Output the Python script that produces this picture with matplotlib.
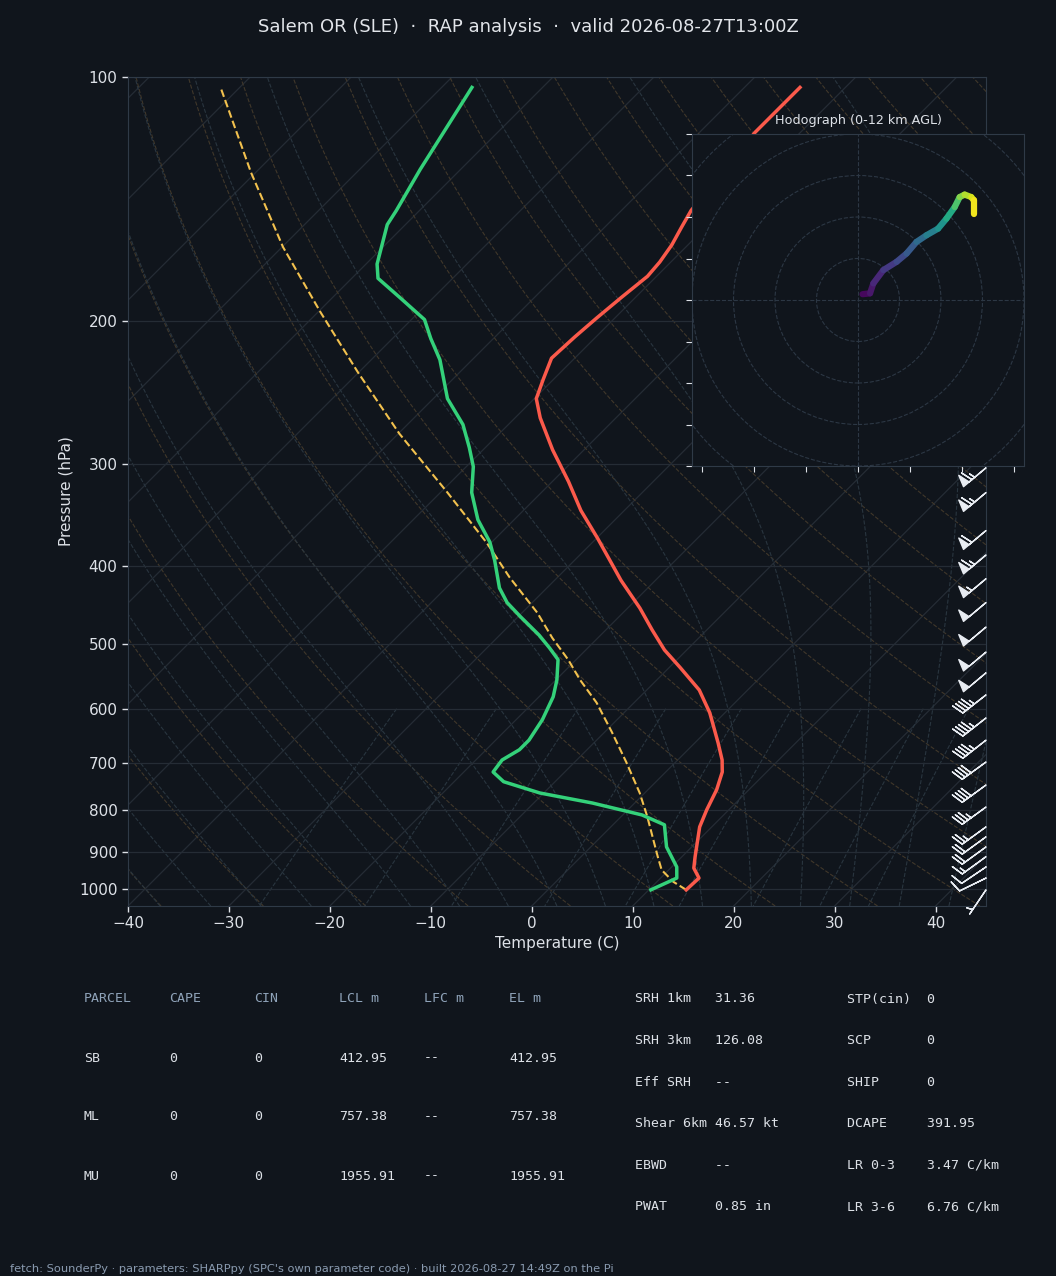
import numpy as np
import matplotlib
matplotlib.use("Agg")
import matplotlib.pyplot as plt
import matplotlib.transforms as mtransforms
from matplotlib.collections import LineCollection
from matplotlib.patches import Circle
from matplotlib.ticker import FixedLocator, FixedFormatter, NullLocator

# ---- sounding ----
temp_p = [1003, 970, 943, 913, 839, 799, 755, 718, 694, 661, 607, 569, 534, 508, 480, 451, 417,
          370, 342, 315, 288, 263, 249, 236, 222, 209, 198, 187, 176, 169, 161, 153, 146, 117, 103]
temp_c = [13.7, 13.8, 12.3, 11.3, 8.8, 7.8, 6.8, 5.6, 4.4, 2.3, -1.5, -4.8, -8.9, -12.2, -15.4, -18.8, -23.4,
          -29.9, -34.3, -38.4, -43.1, -47.5, -49.8, -51.0, -52.3, -52.1, -51.8, -51.4, -50.9, -51.1, -51.6,
          -52.4, -53.1, -54.5, -54.5]

dwpt_p = [1003, 970, 940, 888, 834, 811, 784, 762, 738, 718, 694, 674, 656, 619, 580, 553, 522, 505, 487,
          462, 444, 426, 394, 374, 351, 325, 302, 286, 268, 249, 223, 210, 199, 187, 177, 170, 152, 146,
          130, 103]
dwpt_c = [10.2, 11.6, 10.5, 7.5, 5.1, 1.9, -4.2, -10.4, -15.1, -17.1, -17.4, -16.7, -16.7, -17.4, -18.6,
          -19.9, -21.8, -23.8, -26.1, -29.8, -32.5, -34.7, -37.9, -40.2, -43.6, -46.9, -49.3, -51.6, -54.5,
          -58.6, -63.2, -66.2, -68.7, -73.3, -77.4, -78.9, -81.8, -82.3, -84.0, -87.0]

parcel_p = [1003, 980, 948, 913, 815, 762, 698, 641, 590, 553, 522, 491, 457, 413, 375, 325, 275, 231,
            195, 162, 131, 103]
parcel_c = [13.7, 11.6, 9.3, 7.6, 2.6, -0.5, -4.9, -9.3, -13.7, -17.6, -20.8, -24.5, -28.5, -34.8, -40.4,
            -49.3, -59.9, -70.1, -79.7, -89.9, -100.5, -111.9]

# wind barbs (kt, direction from)
barb_p = [1003, 970, 940, 913, 888, 863, 839, 793, 745, 698, 656, 616, 577, 542, 511, 476, 444, 415,
          388, 362, 325, 303, 275, 250, 225, 200, 175, 150]
barb_kt = [5, 10, 10, 15, 20, 20, 25, 35, 40, 40, 45, 45, 45, 50, 50, 50, 50, 55, 65, 60, 65, 65, 70,
           70, 70, 70, 65, 60]
barb_dir = [214, 244, 236, 234, 234, 234, 234, 234, 234, 234, 232, 232, 232, 230, 230, 230, 230, 230,
            230, 230, 230, 230, 230, 230, 230, 230, 230, 230]

# hodograph trace (m/s) and height (km)
hodo_u = [1.1, 2.9, 3.7, 6.1, 9.3, 11.7, 14.1, 16.5, 19.3, 21.3, 23.3, 24.5, 25.7, 27.3, 27.9, 27.9]
hodo_v = [1.4, 1.6, 4.0, 7.2, 9.2, 11.2, 14.0, 15.6, 17.2, 19.6, 22.4, 24.8, 25.4, 24.8, 24.0, 20.8]
hodo_z = [0, 0.5, 1.0, 1.7, 2.3, 3.0, 3.7, 4.6, 5.7, 6.6, 7.9, 9.4, 10.2, 11.0, 11.5, 12.0]

title = "Salem OR (SLE)  \u00b7  RAP analysis  \u00b7  valid 2026-08-27T13:00Z"

parcel_head = ["PARCEL", "CAPE", "CIN", "LCL m", "LFC m", "EL m"]
parcel_rows = [["SB", "0", "0", "412.95", "--", "412.95"],
               ["ML", "0", "0", "757.38", "--", "757.38"],
               ["MU", "0", "0", "1955.91", "--", "1955.91"]]
index_left = [("SRH 1km", "31.36"), ("SRH 3km", "126.08"), ("Eff SRH", "--"),
              ("Shear 6km", "46.57 kt"), ("EBWD", "--"), ("PWAT", "0.85 in")]
index_right = [("STP(cin)", "0"), ("SCP", "0"), ("SHIP", "0"), ("DCAPE", "391.95"),
               ("LR 0-3", "3.47 C/km"), ("LR 3-6", "6.76 C/km")]
footer = ("fetch: SounderPy \u00b7 parameters: SHARPpy (SPC's own parameter code) \u00b7 "
          "built 2026-08-27 14:49Z on the Pi")

BG = "#10151c"
FG = "#dde1e7"
SPINE = "#2f3a47"
GRID = "#252c35"
W, H = 1056, 1276
P_BOT, P_TOP = 1050, 100
SKEW = 80.4  # deg C shift per decade of pressure


def skew_x(t, p):
    return np.asarray(t, float) + SKEW * np.log10(P_BOT / np.asarray(p, float))


def sat_vp(t):
    return 6.112 * np.exp(17.67 * t / (t + 243.5))


def moist_lapse(t0, p_grid):
    # integrate moist adiabat from (1000 hPa, t0) along p_grid (starting at 1000)
    rd, cp, lv, eps = 287.04, 1005.7, 2.501e6, 0.622
    def dtdp(t, p):
        tk = t + 273.15
        es = sat_vp(t)
        rs = eps * es / (p - es)
        return (rd * tk + lv * rs) / (cp + lv * lv * rs * eps / (rd * tk * tk)) / p
    out = [t0]
    t = t0
    for p1, p2 in zip(p_grid[:-1], p_grid[1:]):
        dp = p2 - p1
        k1 = dtdp(t, p1)
        k2 = dtdp(t + k1 * dp, p2)
        t = t + 0.5 * (k1 + k2) * dp
        out.append(t)
    return np.array(out)


plt.rcParams["font.family"] = "DejaVu Sans"
fig = plt.figure(figsize=(W / 100, H / 100), dpi=100, facecolor=BG)

ax = fig.add_axes([128 / W, 1 - 906 / H, 858 / W, 829 / H])
ax.set_facecolor(BG)
ax.set_yscale("log")
ax.set_ylim(P_BOT, P_TOP)
ax.set_xlim(-40, 45)

# background reference lines
pl = np.geomspace(P_BOT, P_TOP, 200)
for t in np.arange(-160, 50, 10):
    ax.plot(skew_x(np.full_like(pl, t), pl), pl, color=GRID, lw=0.9, zorder=1)
for th in np.arange(-40, 201, 10):
    t = (th + 273.15) * (pl / 1000.0) ** 0.2857 - 273.15
    ax.plot(skew_x(t, pl), pl, color="#40372a", lw=0.8, ls="--", zorder=1)
p_up = np.linspace(1000, P_TOP, 400)
p_dn = np.linspace(1000, P_BOT, 20)
for t0 in np.arange(-40, 46, 5):
    tu = moist_lapse(float(t0), p_up)
    td = moist_lapse(float(t0), p_dn)
    pp = np.concatenate([p_dn[::-1], p_up[1:]])
    tt = np.concatenate([td[::-1], tu[1:]])
    ax.plot(skew_x(tt, pp), pp, color="#29353f", lw=0.8, ls="--", zorder=1)
pm = np.linspace(600, P_BOT, 50)
for w in [0.0004, 0.001, 0.002, 0.004, 0.007, 0.01, 0.016, 0.024, 0.032]:
    e = w * pm / (0.622 + w)
    le = np.log(e / 6.112)
    td = 243.5 * le / (17.67 - le)
    ax.plot(skew_x(td, pm), pm, color="#29353f", lw=0.8, ls="--", zorder=1)

ax.yaxis.set_major_locator(FixedLocator(list(range(100, 1001, 100))))
ax.yaxis.set_major_formatter(FixedFormatter([str(v) for v in range(100, 1001, 100)]))
ax.yaxis.set_minor_locator(NullLocator())
ax.set_xticks(np.arange(-40, 41, 10))
ax.grid(axis="y", color=GRID, lw=0.9, zorder=1)
ax.grid(axis="x", visible=False)

# profiles
ax.plot(skew_x(parcel_c, parcel_p), parcel_p, color="#f2c14e", lw=1.5, ls="--", zorder=3)
ax.plot(skew_x(dwpt_c, dwpt_p), dwpt_p, color="#34d17a", lw=2.5, zorder=4)
ax.plot(skew_x(temp_c, temp_p), temp_p, color="#fb5a4b", lw=2.5, zorder=4)

# barbs at the right edge
spd = np.array(barb_kt, float)
rad = np.radians(barb_dir)
bu = -spd * np.sin(rad)
bv = -spd * np.cos(rad)
trans = mtransforms.blended_transform_factory(ax.transAxes, ax.transData)
ax.barbs(np.ones(len(barb_p)), barb_p, bu, bv, transform=trans, length=6.5,
         color="#e8ecf2", linewidth=1.0, clip_on=False, zorder=5)

for s in ax.spines.values():
    s.set_color(SPINE)
ax.tick_params(colors=FG, labelsize=11, length=4, width=1)
ax.set_ylabel("Pressure (hPa)", color=FG, fontsize=11)
ax.set_xlabel("Temperature (C)", color=FG, fontsize=11, labelpad=3)

# hodograph inset
hax = fig.add_axes([692 / W, 1 - 466 / H, 332 / W, 332 / H])
hax.set_facecolor(BG)
hax.set_xlim(-40, 40)
hax.set_ylim(-40, 40)
for r in range(10, 70, 10):
    hax.add_patch(Circle((0, 0), r, fill=False, ls="--", lw=0.8, ec="#2c3744"))
hax.axhline(0, color="#2c3744", lw=0.8, ls="--")
hax.axvline(0, color="#2c3744", lw=0.8, ls="--")
pts = np.column_stack([hodo_u, hodo_v])
segs = np.stack([pts[:-1], pts[1:]], axis=1)
zmid = 0.5 * (np.array(hodo_z[:-1]) + np.array(hodo_z[1:]))
lc = LineCollection(segs, cmap="viridis", norm=plt.Normalize(0, 12), linewidths=4.5, capstyle="round")
lc.set_array(zmid)
hax.add_collection(lc)
hax.set_xticks([-37.5, -25, -12.5, 0, 12.5, 25, 37.5])
hax.set_yticks(np.arange(-40, 41, 10))
hax.tick_params(labelbottom=False, labelleft=False, colors=FG, length=4)
for s in hax.spines.values():
    s.set_color(SPINE)
hax.set_title("Hodograph (0-12 km AGL)", color=FG, fontsize=9.2, pad=7)

fig.text(0.5, 1 - 27 / H, title, ha="center", va="center", fontsize=13, color="#e2e5ea")

# parameter table
mono = "DejaVu Sans Mono"
HEAD = "#8fa3b9"
col_x = [84, 169, 254, 339, 424, 509]
for cx, txt in zip(col_x, parcel_head):
    fig.text(cx / W, 1 - 999 / H, txt, family=mono, fontsize=9.5, color=HEAD, va="center")
for ri, row in enumerate(parcel_rows):
    y = 1058 + ri * 59
    for cx, txt in zip(col_x, row):
        fig.text(cx / W, 1 - y / H, txt, family=mono, fontsize=9.5, color=FG, va="center")
for ri, ((la, va), (lb, vb)) in enumerate(zip(index_left, index_right)):
    y = 999 + ri * 41.6
    fig.text(635 / W, 1 - y / H, f"{la:<10}{va}", family=mono, fontsize=9.5, color=FG, va="center")
    fig.text(847 / W, 1 - y / H, f"{lb:<10}{vb}", family=mono, fontsize=9.5, color=FG, va="center")

fig.text(10 / W, 1 - 1269 / H, footer, fontsize=8.2, color="#8a9bb0", va="center")

fig.savefig("out.png", dpi=100, facecolor=BG)
